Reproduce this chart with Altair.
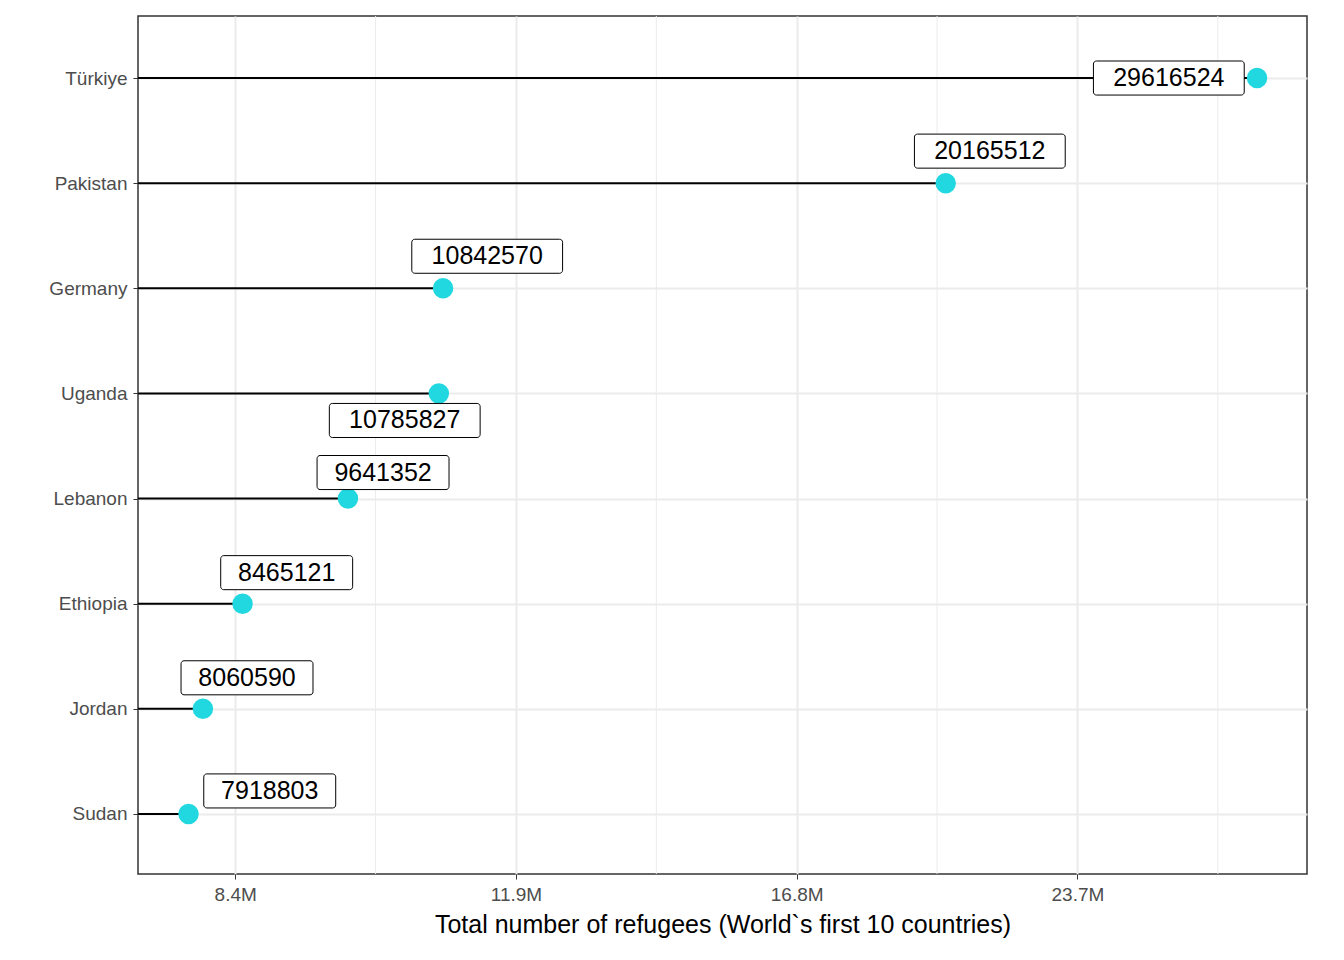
import pandas as pd
import altair as alt

countries = ["Sudan", "Jordan", "Ethiopia", "Lebanon", "Uganda", "Germany", "Pakistan", "Türkiye"]
refugees = [7918803, 8060590, 8465121, 9641352, 10785827, 10842570, 20165512, 29616524]
# label offsets from the dot, in pixels (repelled labels)
label_dx = [81, 44, 44, 35, -34, 44, 44, -88]
label_dy = [-23, -31, -31, -26, 27, -32, -32, 0]

PX_PER_LOG2 = 560.0  # 280 px per half power of two
PX_PER_ROW = 105.0
XMIN, XMAX = 7.44e6, 31.5e6

df = pd.DataFrame({"country": countries, "value": refugees, "idx": range(len(countries))})
df["lx"] = df["value"] * 2 ** (pd.Series(label_dx) / PX_PER_LOG2)
df["ly"] = df["idx"] - pd.Series(label_dy) / PX_PER_ROW
halfw = df["value"].astype(str).str.len() * 9.4
df["bx"] = df["lx"] * 2 ** (-halfw / PX_PER_LOG2)
df["bx2"] = df["lx"] * 2 ** (halfw / PX_PER_LOG2)
df["by"] = df["ly"] - 17 / PX_PER_ROW
df["by2"] = df["ly"] + 17 / PX_PER_ROW
df["xmin"] = XMIN

major = [2 ** 23, 2 ** 23.5, 2 ** 24, 2 ** 24.5]
minor = [2 ** 23.25, 2 ** 23.75, 2 ** 24.25, 2 ** 24.75]

xs = alt.Scale(type="log", base=2, domain=[XMIN, XMAX], nice=False)
ys = alt.Scale(domain=[-0.571, 7.59], nice=False, zero=False)
names = "[" + ",".join(f"'{c}'" for c in countries) + "]"

base = alt.Chart(df)

minor_grid = alt.Chart(pd.DataFrame({"m": minor})).mark_rule(color="#ebebeb", strokeWidth=1).encode(
    x=alt.X("m:Q", scale=xs)
)

segs = base.mark_rule(color="black", strokeWidth=2).encode(
    x=alt.X("xmin:Q", scale=xs,
            axis=alt.Axis(values=major, labelExpr="format(datum.value/1e6,'.1f')+'M'",
                          title="Total number of refugees (World`s first 10 countries)",
                          gridColor="#ebebeb", gridWidth=2, tickColor="#333333",
                          labelColor="#4d4d4d", labelFontSize=19, titleFontSize=25,
                          titleFontWeight="normal", titleColor="black", domain=False,
                          labelPadding=6, titlePadding=8,
                          labelFont="Liberation Sans", titleFont="Liberation Sans")),
    x2="value:Q",
    y=alt.Y("idx:Q", scale=ys,
            axis=alt.Axis(values=list(range(len(countries))), title=None,
                          labelExpr=f"{names}[datum.value]",
                          gridColor="#ebebeb", gridWidth=2, tickColor="#333333",
                          labelColor="#4d4d4d", labelFontSize=19, domain=False,
                          labelFont="Liberation Sans", labelPadding=6)),
)

dots = base.mark_circle(color="#22d8e0", opacity=1, size=420).encode(
    x=alt.X("value:Q", scale=xs), y=alt.Y("idx:Q", scale=ys)
)

boxes = base.mark_rect(fill="white", stroke="black", strokeWidth=1, cornerRadius=3).encode(
    x=alt.X("bx:Q", scale=xs), x2="bx2:Q", y=alt.Y("by:Q", scale=ys), y2="by2:Q"
)

labels = base.mark_text(fontSize=25, font="Liberation Sans", color="black").encode(
    x=alt.X("lx:Q", scale=xs), y=alt.Y("ly:Q", scale=ys), text="value:N"
)

chart = alt.layer(minor_grid, segs, dots, boxes, labels).properties(
    width=1169, height=858,
    padding={"left": 40, "top": 7, "right": 5, "bottom": 5},
).configure(background="white").configure_view(stroke="#333333", strokeWidth=1.5)

chart.save("out.html", embed_options={"renderer": "svg", "actions": False})
